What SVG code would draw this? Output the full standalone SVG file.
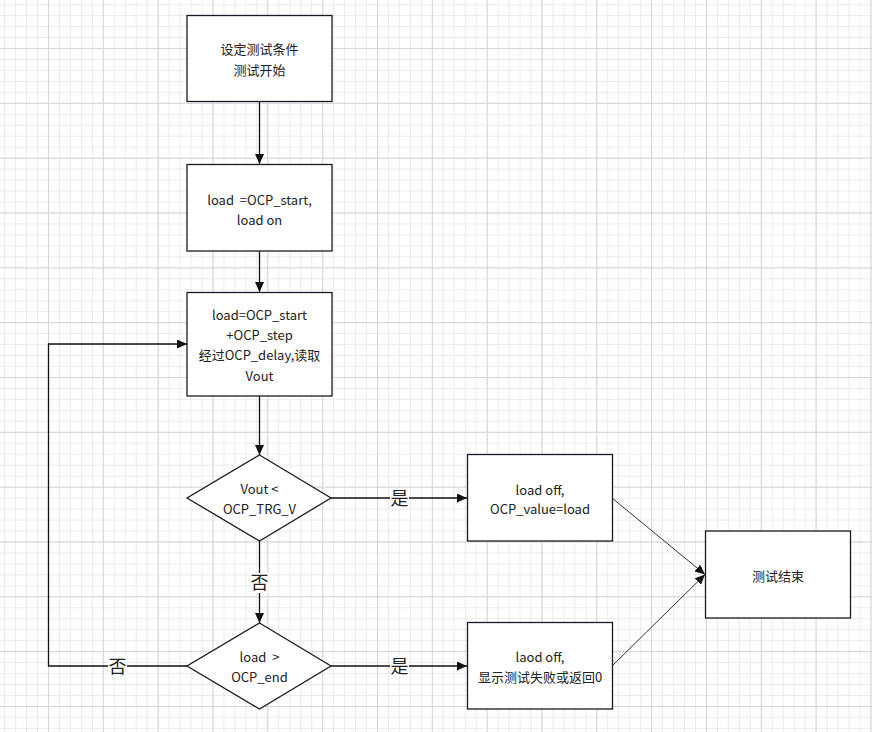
<svg xmlns="http://www.w3.org/2000/svg" width="872" height="732" viewBox="0 0 872 732">
  <defs>
    <pattern id="minor" patternUnits="userSpaceOnUse" x="4.13" y="4.13" width="10.966" height="10.966">
      <path d="M0,0.5 H10.966 M0.5,0 V10.966" fill="none" stroke="#ebebeb" stroke-width="1"/>
    </pattern>
    <pattern id="major" patternUnits="userSpaceOnUse" x="48" y="48" width="54.83" height="54.83">
      <path d="M0,0.5 H54.83 M0.5,0 V54.83" fill="none" stroke="#d6d6d6" stroke-width="1"/>
    </pattern>
    <marker id="arr" markerUnits="userSpaceOnUse" markerWidth="11" markerHeight="10" refX="10" refY="4.5" orient="auto">
      <path d="M0,0 L10,4.5 L0,9 z" fill="#111"/>
    </marker>
    <style>
      .box { fill: #fff; stroke: #1a1a24; stroke-width: 1.3; }
      .t { font-family: "Noto Sans CJK SC", "Noto Sans", sans-serif; font-size: 13px; fill: #222; text-anchor: middle; white-space: pre; }
      .lbl { font-family: "Noto Sans CJK SC", sans-serif; font-size: 18px; fill: #222; text-anchor: middle; }
      .c { fill: none; stroke: #111; stroke-width: 1.3; }
      .d { fill: none; stroke: #333; stroke-width: 1; }
    </style>
  </defs>
  <rect width="872" height="732" fill="#fff"/>
  <rect width="872" height="732" fill="url(#minor)"/>
  <rect width="872" height="732" fill="url(#major)"/>

  <g id="connectors">
    <path class="c" d="M259.5,102 V164" marker-end="url(#arr)"/>
    <path class="c" d="M259.5,251 V292" marker-end="url(#arr)"/>
    <path class="c" d="M259.5,396 V455" marker-end="url(#arr)"/>
    <path class="c" d="M259.5,541 V623" marker-end="url(#arr)"/>
    <path class="c" d="M331,498 H467" marker-end="url(#arr)"/>
    <path class="c" d="M331,666 H467" marker-end="url(#arr)"/>
    <path class="c" d="M187,666 H48.5 V344 H187" marker-end="url(#arr)"/>
    <path class="d" d="M612,498 L705,574.5" marker-end="url(#arr)"/>
    <path class="d" d="M612,666 L705,574.5" marker-end="url(#arr)"/>
    <rect x="250" y="573" width="19" height="20" fill="#fff"/>
    <text class="lbl" x="259.5" y="589">否</text>
    <rect x="390" y="488" width="19" height="20" fill="#fff"/>
    <text class="lbl" x="399.5" y="505">是</text>
    <rect x="390" y="656" width="19" height="20" fill="#fff"/>
    <text class="lbl" x="399.5" y="673">是</text>
    <rect x="108" y="656" width="19" height="20" fill="#fff"/>
    <text class="lbl" x="117.5" y="673">否</text>
  </g>

  <g id="start">
    <rect class="box" x="187" y="15.5" width="145" height="86"/>
    <text class="t" x="259.5" y="54">设定测试条件</text>
    <text class="t" x="259.5" y="75">测试开始</text>
  </g>
  <g id="load_on">
    <rect class="box" x="187" y="164.5" width="145" height="86.5"/>
    <text class="t" x="259.5" y="204.5">load  =OCP_start,</text>
    <text class="t" x="259.5" y="224.5">load on</text>
  </g>
  <g id="step">
    <rect class="box" x="187" y="292.5" width="145" height="103.5"/>
    <text class="t" x="259.5" y="320">load=OCP_start</text>
    <text class="t" x="259.5" y="340">+OCP_step</text>
    <text class="t" x="259.5" y="360">经过OCP_delay,读取</text>
    <text class="t" x="259.5" y="380.5">Vout</text>
  </g>
  <g id="check_vout">
    <path class="box" d="M259.5,455 L331,498 L259.5,541 L187,498 z"/>
    <text class="t" x="259.5" y="494">Vout &lt;</text>
    <text class="t" x="259.5" y="514">OCP_TRG_V</text>
  </g>
  <g id="check_end">
    <path class="box" d="M259.5,623 L331,666 L259.5,709 L187,666 z"/>
    <text class="t" x="259.5" y="662">load  &gt;</text>
    <text class="t" x="259.5" y="682">OCP_end</text>
  </g>
  <g id="pass">
    <rect class="box" x="467.5" y="454.5" width="145" height="86.5"/>
    <text class="t" x="540" y="494.5">load off,</text>
    <text class="t" x="540" y="514">OCP_value=load</text>
  </g>
  <g id="fail">
    <rect class="box" x="467.5" y="622.5" width="145" height="86.5"/>
    <text class="t" x="540" y="661.5">laod off,</text>
    <text class="t" x="540" y="681.5">显示测试失败或返回0</text>
  </g>
  <g id="end">
    <rect class="box" x="705.5" y="531" width="145" height="87"/>
    <text class="t" x="778" y="581">测试结束</text>
  </g>
</svg>
